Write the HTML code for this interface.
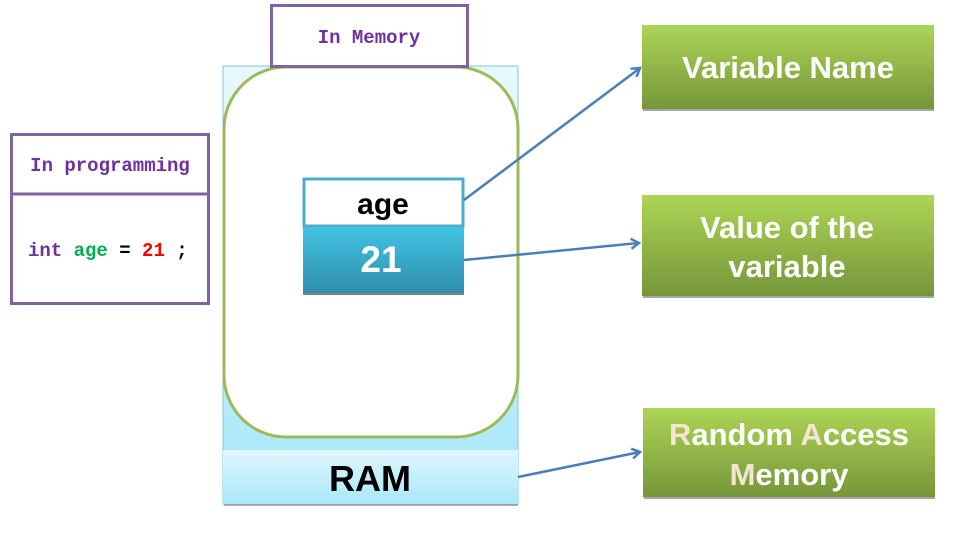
<!DOCTYPE html>
<html><head><meta charset="utf-8"><style>
html,body{margin:0;padding:0;background:#fff;width:960px;height:540px;overflow:hidden}
</style></head><body>
<svg width="960" height="540" viewBox="0 0 960 540" xmlns="http://www.w3.org/2000/svg">
<defs>
<linearGradient id="ram" x1="0" y1="0" x2="0" y2="1"><stop offset="0" stop-color="#e8f9fd"/><stop offset="1" stop-color="#a6e7f8"/></linearGradient>
<linearGradient id="ramb" x1="0" y1="0" x2="0" y2="1"><stop offset="0" stop-color="#e0f7fd"/><stop offset="1" stop-color="#a9e8f9"/></linearGradient>
<linearGradient id="blue" x1="0" y1="0" x2="0" y2="1"><stop offset="0" stop-color="#42c3e3"/><stop offset="1" stop-color="#2f8fac"/></linearGradient>
<linearGradient id="grn" x1="0" y1="0" x2="0" y2="1"><stop offset="0" stop-color="#add555"/><stop offset="1" stop-color="#76963a"/></linearGradient>
<marker id="ah" markerWidth="12" markerHeight="12" refX="9" refY="6" orient="auto" markerUnits="userSpaceOnUse"><path d="M1,1 L9,6 L1,11" fill="none" stroke="#4a7ebb" stroke-width="2.5"/></marker>
</defs>
<g font-family="Liberation Sans, sans-serif" font-weight="bold">
<rect x="223" y="66" width="295" height="438" fill="url(#ram)" stroke="#7fc9dc" stroke-width="1"/>
<rect x="223" y="450" width="295" height="54" fill="url(#ramb)"/>
<line x1="224" y1="505" x2="518" y2="505" stroke="#999" stroke-width="1.5"/>
<rect x="224" y="67" width="294" height="370" rx="62" fill="#fff" stroke="#9bbb59" stroke-width="3"/>
<text x="370" y="491" font-size="36" text-anchor="middle" fill="#000">RAM</text>
<rect x="271.5" y="5.5" width="196" height="61" fill="#fff" stroke="#8064a2" stroke-width="3"/>
<text x="369" y="43" font-family="Liberation Mono, monospace" font-size="19" text-anchor="middle" fill="#7030a0">In Memory</text>
<rect x="304" y="179" width="159" height="47" fill="#fff" stroke="#4bacc6" stroke-width="3"/>
<text x="383" y="214" font-size="30" text-anchor="middle" fill="#000">age</text>
<rect x="303" y="227" width="161" height="66" fill="url(#blue)"/>
<line x1="303" y1="294" x2="464" y2="294" stroke="#555" stroke-width="1.5"/>
<text x="381" y="272" font-size="37" text-anchor="middle" fill="#fff">21</text>
<rect x="11.5" y="134.5" width="197" height="169" fill="#fff" stroke="#8064a2" stroke-width="3"/>
<line x1="11" y1="194" x2="208" y2="194" stroke="#8064a2" stroke-width="3"/>
<text x="110" y="171" font-family="Liberation Mono, monospace" font-size="19" text-anchor="middle" fill="#7030a0">In programming</text>
<text x="28" y="256" font-family="Liberation Mono, monospace" font-size="19" fill="#7030a0">int <tspan fill="#00b050">age</tspan><tspan fill="#000"> = </tspan><tspan fill="#ff0000">21</tspan><tspan fill="#000"> ;</tspan></text>
<rect x="642" y="25" width="292" height="84" fill="url(#grn)"/>
<line x1="643" y1="110" x2="934" y2="110" stroke="#888" stroke-width="1.5"/>
<text x="788" y="78" font-size="31" text-anchor="middle" fill="#fff">Variable Name</text>
<rect x="642" y="195" width="292" height="101" fill="url(#grn)"/>
<line x1="643" y1="297" x2="934" y2="297" stroke="#888" stroke-width="1.5"/>
<text x="787" y="238" font-size="31" text-anchor="middle" fill="#fff">Value of the</text>
<text x="787" y="277" font-size="31" text-anchor="middle" fill="#fff">variable</text>
<rect x="643" y="408" width="292" height="89" fill="url(#grn)"/>
<line x1="644" y1="498" x2="935" y2="498" stroke="#888" stroke-width="1.5"/>
<text x="789" y="445" font-size="31" text-anchor="middle" fill="#fff"><tspan fill="#f5e6d3">R</tspan>andom <tspan fill="#f5e6d3">A</tspan>ccess</text>
<text x="789" y="485" font-size="31" text-anchor="middle" fill="#fff"><tspan fill="#f5e6d3">M</tspan>emory</text>
</g>
<g stroke="#4a7ebb" stroke-width="2.5" fill="none">
<line x1="464" y1="200" x2="640" y2="68" marker-end="url(#ah)"/>
<line x1="464" y1="260" x2="639" y2="243" marker-end="url(#ah)"/>
<line x1="518" y1="477" x2="640" y2="452" marker-end="url(#ah)"/>
</g>
</svg>
</body></html>
